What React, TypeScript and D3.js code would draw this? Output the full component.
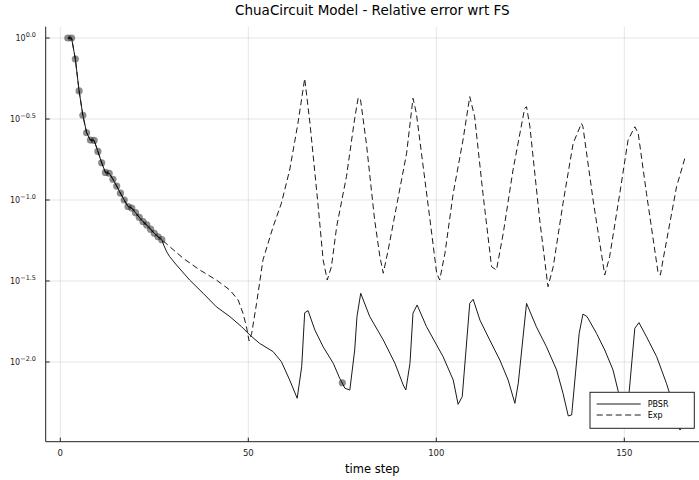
import React from "react";
import * as d3 from "d3";

const W = 699;
const H = 480;

const titleText = "ChuaCircuit Model - Relative error wrt FS";
const xLabel = "time step";
const xTicks = [0, 50, 100, 150];
const yTickExps = [0, -0.5, -1, -1.5, -2];
const yTickSup = ["0.0", "\u22120.5", "\u22121.0", "\u22121.5", "\u22122.0"];
const legendNames = ["PBSR", "Exp"];

// shared start of both series (log10 of relative error)
const sharedSteps = [2, 3, 4, 5, 6, 7, 8, 9, 10, 11, 12, 13, 14, 15, 16, 17, 18, 19, 20, 21, 22, 23, 24, 25, 26, 27];
const sharedLog10 = [0.0, 0.0, -0.13, -0.327, -0.477, -0.585, -0.63, -0.632, -0.70, -0.77, -0.83, -0.835, -0.872, -0.914, -0.958, -1.0, -1.04, -1.05, -1.078, -1.107, -1.134, -1.154, -1.18, -1.206, -1.227, -1.245];

// PBSR continuation
const pbsrSteps = [27.5, 28.3, 29.1, 30.9, 34.4, 38.0, 41.5, 45.1, 48.2, 50.4, 53.0, 56.6, 58.8, 61.0, 63.0, 64.2, 65.0, 65.9, 67.7, 69.9, 72.6, 74.3, 75.7, 77.0, 78.3, 78.9, 79.9, 82.3, 85.9, 89.0, 91.2, 91.9, 93.0, 93.8, 94.9, 97.4, 101.8, 104.5, 105.8, 106.9, 108.9, 109.8, 111.6, 114.2, 116.9, 119.1, 120.9, 121.8, 124.0, 126.6, 129.3, 132.0, 133.7, 135.1, 136.0, 138.0, 139.0, 140.1, 142.6, 144.8, 147.0, 148.4, 149.6, 150.5, 151.3, 152.8, 153.9, 155.9, 158.6, 161.2, 163.5, 164.8, 166.1];
const pbsrLog10 = [-1.278, -1.32, -1.35, -1.401, -1.494, -1.576, -1.659, -1.72, -1.782, -1.833, -1.885, -1.936, -1.998, -2.111, -2.224, -2.029, -1.696, -1.683, -1.802, -1.906, -2.008, -2.10, -2.162, -2.173, -1.926, -1.72, -1.576, -1.72, -1.864, -2.008, -2.142, -2.173, -2.008, -1.699, -1.648, -1.782, -1.967, -2.111, -2.261, -2.214, -1.638, -1.613, -1.741, -1.864, -1.988, -2.111, -2.255, -2.131, -1.638, -1.782, -1.906, -2.049, -2.193, -2.333, -2.327, -1.823, -1.704, -1.72, -1.823, -1.926, -2.049, -2.183, -2.36, -2.36, -2.183, -1.792, -1.757, -1.844, -1.967, -2.131, -2.3, -2.42, -2.37];

// Exp continuation
const expSteps = [29.1, 32.7, 37.1, 41.5, 45.1, 47.3, 48.6, 49.5, 50.2, 50.9, 52.2, 53.9, 56.6, 58.8, 61.0, 63.2, 65.0, 66.4, 68.6, 69.9, 71.0, 72.1, 73.5, 76.1, 78.3, 79.2, 79.8, 81.4, 83.6, 85.0, 85.9, 87.2, 89.4, 92.1, 93.8, 94.7, 98.2, 100.1, 100.9, 102.3, 104.5, 107.1, 108.9, 110.2, 112.4, 114.7, 116.0, 117.8, 120.4, 123.5, 124.0, 124.9, 127.5, 129.7, 131.1, 133.7, 136.4, 138.6, 139.0, 141.7, 144.8, 146.1, 148.8, 151.0, 152.8, 153.7, 155.9, 159.0, 159.6, 160.3, 163.9, 166.1];
const expLog10 = [-1.288, -1.36, -1.432, -1.494, -1.556, -1.617, -1.70, -1.782, -1.869, -1.823, -1.638, -1.37, -1.165, -1.02, -0.815, -0.527, -0.25, -0.527, -1.041, -1.37, -1.494, -1.412, -1.165, -0.856, -0.496, -0.372, -0.372, -0.65, -1.123, -1.35, -1.452, -1.309, -1.041, -0.712, -0.372, -0.465, -1.1, -1.452, -1.494, -1.329, -0.959, -0.63, -0.362, -0.486, -0.959, -1.412, -1.432, -1.206, -0.815, -0.434, -0.424, -0.548, -1.123, -1.535, -1.412, -1.02, -0.65, -0.527, -0.548, -1.0, -1.463, -1.35, -0.959, -0.63, -0.548, -0.588, -0.959, -1.452, -1.463, -1.37, -0.918, -0.743];

// sample markers
const markerSteps = [2, 3, 4, 5, 6, 7, 8, 9, 10, 11, 12, 13, 14, 15, 16, 17, 18, 19, 20, 21, 22, 23, 24, 25, 26, 27, 75];
const markerLog10 = [0.0, 0.0, -0.13, -0.327, -0.477, -0.585, -0.63, -0.632, -0.70, -0.77, -0.83, -0.835, -0.872, -0.914, -0.958, -1.0, -1.04, -1.05, -1.078, -1.107, -1.134, -1.154, -1.18, -1.206, -1.227, -1.245, -2.128];

const plotLeft = 45.7;
const plotRight = 699;
const plotTop = 26.7;
const plotBottom = 441.7;

export default function App() {
  const x = d3.scaleLinear().domain([0, 150]).range([60.3, 624.3]);
  const y = d3.scaleLog().domain([1, 0.01]).range([38, 362]);

  const toPts = (ts: number[], ls: number[]) => ts.map((t, i) => [t, Math.pow(10, ls[i])] as [number, number]);
  const shared = toPts(sharedSteps, sharedLog10);
  const pbsr = shared.concat(toPts(pbsrSteps, pbsrLog10));
  const exp = shared.concat(toPts(expSteps, expLog10));
  const markers = toPts(markerSteps, markerLog10);

  const line = d3
    .line<[number, number]>()
    .x((d) => x(d[0]))
    .y((d) => y(d[1]));

  const font = "DejaVu Sans, sans-serif";
  const lineColor = "#1a1a1a";

  return (
    <svg
      width={W}
      height={H}
      style={{ position: "absolute", left: 0, top: 0, background: "#fff" }}
      fontFamily={font}
    >
      <rect x={0} y={0} width={W} height={H} fill="#fff" />
      <defs>
        <clipPath id="plotclip">
          <rect x={plotLeft} y={plotTop} width={plotRight - plotLeft} height={plotBottom - plotTop} />
        </clipPath>
      </defs>
      {/* grid */}
      {xTicks.map((t) => (
        <line key={"gx" + t} x1={x(t)} x2={x(t)} y1={plotTop} y2={plotBottom} stroke="#000" strokeOpacity={0.1} strokeWidth={1} />
      ))}
      {yTickExps.map((e) => (
        <line key={"gy" + e} x1={plotLeft} x2={plotRight} y1={y(Math.pow(10, e))} y2={y(Math.pow(10, e))} stroke="#000" strokeOpacity={0.1} strokeWidth={1} />
      ))}
      {/* series */}
      <g clipPath="url(#plotclip)">
        <path d={line(exp) || ""} fill="none" stroke={lineColor} strokeWidth={1} strokeDasharray="6,3.5" />
        <path d={line(pbsr) || ""} fill="none" stroke={lineColor} strokeWidth={1} />
        {markers.map((d, i) => (
          <circle key={"m" + i} cx={x(d[0])} cy={y(d[1])} r={3.6} fill="#000" fillOpacity={0.45} />
        ))}
      </g>
      {/* axes */}
      <line x1={plotLeft} x2={plotLeft} y1={plotTop} y2={plotBottom} stroke="#222" strokeWidth={1} />
      <line x1={plotLeft} x2={plotRight} y1={plotBottom} y2={plotBottom} stroke="#222" strokeWidth={1} />
      {xTicks.map((t) => (
        <g key={"xt" + t}>
          <line x1={x(t)} x2={x(t)} y1={plotBottom} y2={plotBottom - 4} stroke="#222" strokeWidth={1} />
          <text x={x(t)} y={plotBottom + 14} fontSize={8.5} textAnchor="middle" fill="#222">
            {t}
          </text>
        </g>
      ))}
      {yTickExps.map((e, i) => (
        <g key={"yt" + e}>
          <line x1={plotLeft} x2={plotLeft + 4} y1={y(Math.pow(10, e))} y2={y(Math.pow(10, e))} stroke="#222" strokeWidth={1} />
          <text x={36} y={y(Math.pow(10, e)) + 3} fontSize={8} textAnchor="end" fill="#222">
            <tspan>10</tspan>
            <tspan dy={-4} fontSize={6.5}>{yTickSup[i]}</tspan>
          </text>
        </g>
      ))}
      {/* labels */}
      <text x={(plotLeft + plotRight) / 2} y={473} fontSize={11.5} textAnchor="middle" fill="#000">
        {xLabel}
      </text>
      <text x={(plotLeft + plotRight) / 2} y={15} fontSize={13.5} textAnchor="middle" fill="#000">
        {titleText}
      </text>
      {/* legend */}
      <rect x={590} y={392.3} width={104.3} height={36} fill="#fff" stroke="#222" strokeWidth={1} />
      <line x1={596.7} x2={640.7} y1={404} y2={404} stroke={lineColor} strokeWidth={1} />
      <line x1={596.7} x2={640.7} y1={415} y2={415} stroke={lineColor} strokeWidth={1} strokeDasharray="6,3.5" />
      <text x={647.7} y={407} fontSize={8} fill="#000">{legendNames[0]}</text>
      <text x={647.7} y={418} fontSize={8} fill="#000">{legendNames[1]}</text>
    </svg>
  );
}
